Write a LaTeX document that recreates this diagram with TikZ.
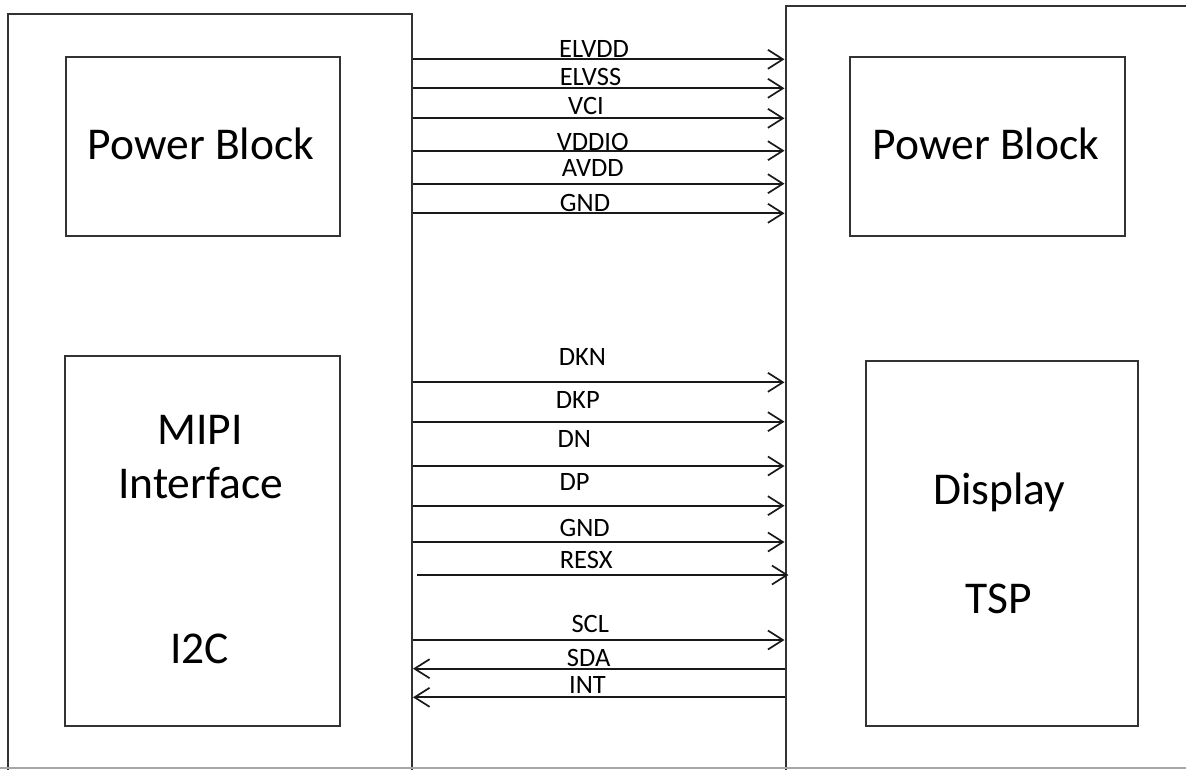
\documentclass[tikz,border=0pt]{standalone}
\usepackage{fontspec}
\setmainfont{Carlito}
\usetikzlibrary{arrows.meta}
\tikzset{
  blk/.style={draw=black!80, line width=2pt, rectangle, inner sep=0pt, anchor=north west},
  big/.style={font=\fontsize{45.5}{54}\selectfont, anchor=base, inner sep=0pt, text=black},
  sig/.style={font=\fontsize{26.5}{30}\selectfont, anchor=base, inner sep=0pt, text=black},
  wire/.style={line width=1.7pt, draw=black!90, -{Straight Barb[length=15pt,width=19pt,line width=1.7pt]}},
}
\begin{document}
\begin{tikzpicture}[x=1pt,y=-1pt]
\useasboundingbox (0,0) rectangle (1186,769);
\clip (0,0) rectangle (1186,769);
% outer blocks
\node[blk, minimum width=404pt, minimum height=800pt] (Lout) at (7,12.5) {};
\node[blk, minimum width=500pt, minimum height=800pt] (Rout) at (784.5,4.5) {};
% inner blocks
\node[blk, minimum width=274pt, minimum height=179.5pt] (Lpow) at (64.5,55.5) {};
\node[blk, minimum width=275pt, minimum height=179.5pt] (Rpow) at (849,55.5) {};
\node[blk, minimum width=274.5pt, minimum height=370pt] (mipi) at (64,355) {};
\node[blk, minimum width=272pt, minimum height=365pt] (disp) at (865,360) {};
% block texts
\node[big] (tLpow) at (201,159.5) {Power Block};
\node[big] (tRpow) at (986,159) {Power Block};
\node[big] (tmipi) at (200,444) {MIPI};
\node[big] (tintf) at (200.5,498) {Interface};
\node[big] (ti2c) at (199.5,663) {I2C};
\node[big] (tdisp) at (999.5,504) {Display};
\node[big] (ttsp) at (998.5,613) {TSP};
% bottom edge line
\draw[gray!70, line width=1.2pt] (0,768) -- (1186,768);
% wires
\foreach \y in {59.3,88.3,118.3,150.7,183.7,213.3,382.3,421.7,466,505.7,542,640}
  \draw[wire] (Lout.east |- {(0,\y)}) -- (Rout.west |- {(0,\y)});
\draw[wire] ([xshift=4pt]Lout.east |- {(0,575)}) -- ([xshift=4pt]Rout.west |- {(0,575)});
\draw[wire] (Rout.west |- {(0,668.7)}) -- (Lout.east |- {(0,668.7)});
\draw[wire] (Rout.west |- {(0,697.3)}) -- (Lout.east |- {(0,697.3)});
% labels
\node[sig] (l1) at (594,57) {ELVDD};
\node[sig] (l2) at (590.5,85) {ELVSS};
\node[sig] (l3) at (586,114) {VCI};
\node[sig] (l4) at (592.7,150) {VDDIO};
\node[sig] (l5) at (592.8,176.5) {AVDD};
\node[sig] (l6) at (585,211) {GND};
\node[sig] (l7) at (582.5,365) {DKN};
\node[sig] (l8) at (577.8,408) {DKP};
\node[sig] (l9) at (574.2,447.5) {DN};
\node[sig] (l10) at (574.5,490) {DP};
\node[sig] (l11) at (584.7,536.5) {GND};
\node[sig] (l12) at (586.2,568) {RESX};
\node[sig] (l13) at (590.3,632) {SCL};
\node[sig] (l14) at (588.7,666.5) {SDA};
\node[sig] (l15) at (587.5,693) {INT};
\end{tikzpicture}
\end{document}
